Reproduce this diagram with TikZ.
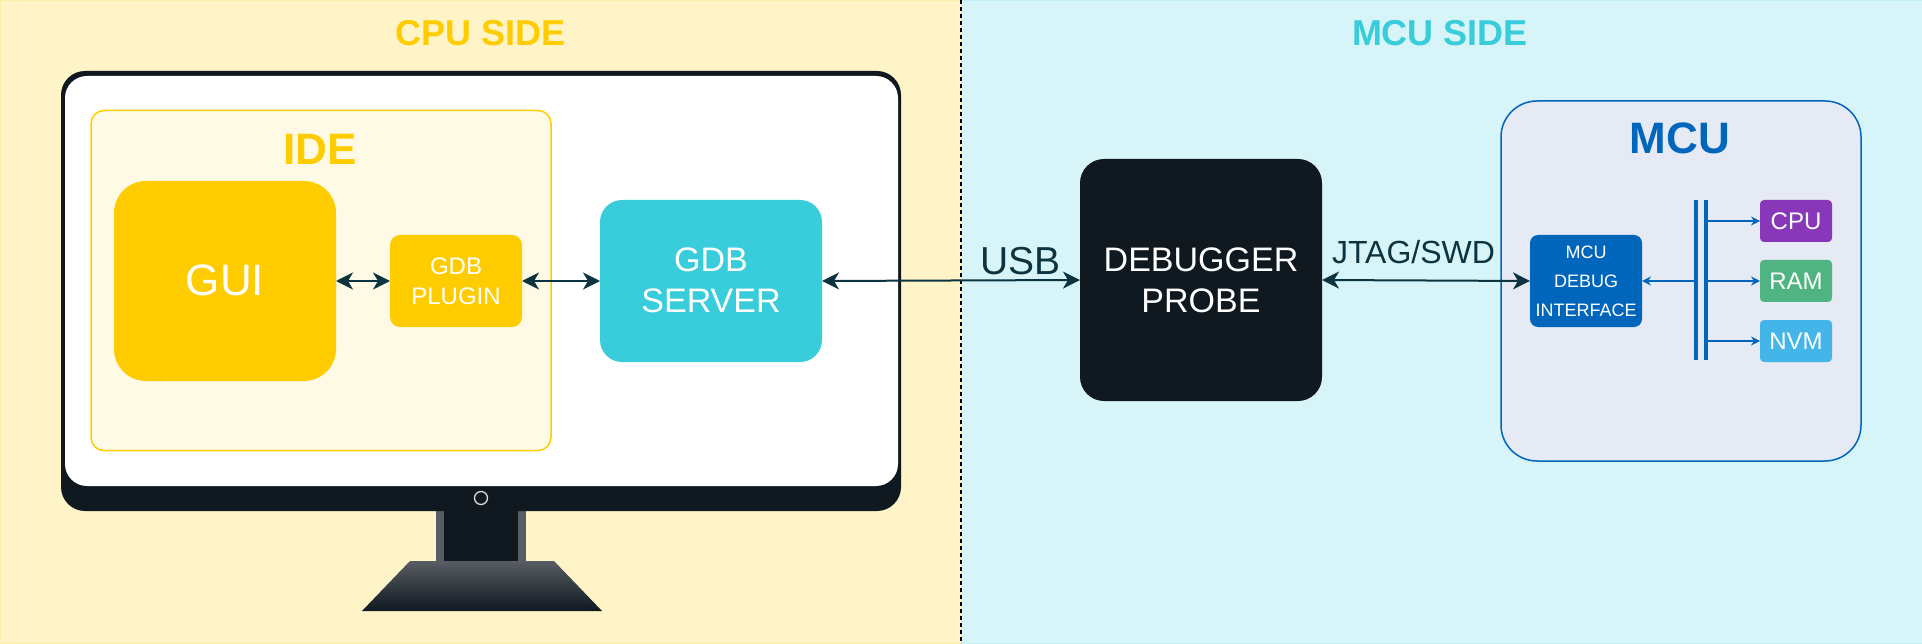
\documentclass[tikz,border=0pt]{standalone}
\usepackage{fontspec}
\setmainfont{Liberation Sans}
\usetikzlibrary{positioning, arrows.meta}
\definecolor{gold}{HTML}{FFCC00}
\definecolor{teal2}{HTML}{39CCDB}
\definecolor{ink}{HTML}{101820}
\definecolor{wire}{HTML}{0B3440}
\definecolor{mcublue}{HTML}{0066BB}
\definecolor{mcufill}{HTML}{E6EAF5}
\definecolor{cpufill}{HTML}{8737B7}
\definecolor{ramfill}{HTML}{50B382}
\definecolor{nvmfill}{HTML}{44B5E8}
\tikzset{
box/.style={rectangle, inner sep=0pt, outer sep=0pt, align=center, text=white}, % every block of the picture
panel/.style={box, minimum width=961pt, minimum height=643pt},
side/.style={font=\fontsize{36}{40}\selectfont\bfseries},
head/.style={font=\fontsize{44}{48}\selectfont\bfseries},
big/.style={font=\fontsize{34}{41}\selectfont},
tiny/.style={box, rounded corners=4pt, minimum width=72pt, minimum height=42pt, font=\fontsize{24}{28}\selectfont},
link/.style={<->, >={Stealth[length=17pt, width=17pt, inset=5pt]}, draw=wire, line width=2pt}, % thick arrows between blocks
buslink/.style={->, >={Stealth[length=9pt, width=9pt, inset=3pt]}, draw=mcublue, line width=2pt},
bar/.style={box, fill=mcublue, minimum width=4pt, minimum height=160pt},
}

\begin{document}
\begin{tikzpicture}[x=1pt, y=-1pt]
    \useasboundingbox (0,0) rectangle (1922,644);

    \node[panel, fill=gold!22, draw=gold!35] (cpuside) at (480.5,322) {};
    \node[panel, fill=teal2!20, draw=teal2!30] (mcuside) at (1441.5,322) {};
    \coordinate (top) at (961,0);
    \coordinate (bottom) at (961,644);
    \draw[dashed, line width=1.5pt, dash pattern=on 4pt off 3pt] (top) -- (bottom);

    \node[side, text=gold] (cputitle) at (480.5,33) {CPU SIDE};
    \node[side, text=teal2] (mcutitle) at (1440,33) {MCU SIDE};

    % monitor
    \fill[ink!70!white] (436,505) rectangle (526,565);
    \fill[ink] (444,505) rectangle (518,565);
    \shade[top color=ink!70!white, bottom color=ink] (410,561) -- (554,561) -- (602,611) -- (362,611) -- cycle;
    \node[box, fill=ink, rounded corners=24pt, minimum width=840pt, minimum height=440pt] (frame) at (481,291) {};
    \node[box, fill=white, rounded corners=22pt, minimum width=833pt, minimum height=410pt] (screen) at (481.5,281) {};
    \node[circle, draw=white!85!black, line width=1.3pt, minimum size=13pt, inner sep=0pt] (led) at (481,498) {};

    % blocks on the computer
    \node[box, fill=gold!10, draw=gold, line width=1.5pt, rounded corners=13pt, minimum width=460pt, minimum height=340pt] (ide) at (321,280.5) {};
    \node[head, text=gold] (idetitle) at (320,149) {IDE};
    \node[box, fill=gold, rounded corners=32pt, minimum width=222pt, minimum height=200pt, font=\fontsize{44}{48}\selectfont] (gui) at (225,281) {\raisebox{2pt}{GUI}};
    \node[box, fill=gold, rounded corners=10pt, minimum width=132pt, minimum height=92pt, right=54pt of gui, font=\fontsize{24}{30}\selectfont] (plugin) {GDB\\PLUGIN};
    \node[box, big, fill=teal2, rounded corners=22pt, minimum width=222pt, minimum height=162pt, right=78pt of plugin] (server) {\raisebox{1.5pt}{GDB}\\\raisebox{1.5pt}{SERVER}};

    % blocks on the target
    \node[box, big, fill=ink, rounded corners=24pt, minimum width=242pt, minimum height=242pt, right=258pt of server, yshift=1pt] (probe) {DEBUGGER\\PROBE};
    \node[box, fill=mcufill, draw=mcublue, line width=1.5pt, rounded corners=36pt, minimum width=360pt, minimum height=360pt] (mcu) at (1681,281) {};
    \node[head, text=mcublue] (mcutext) at (1680,138.5) {MCU};
    \node[box, fill=mcublue, rounded corners=8pt, minimum width=112pt, minimum height=92pt, right=208pt of probe, yshift=-1pt, font=\fontsize{18}{29}\selectfont] (debug) {MCU\\DEBUG\\INTERFACE};
    \node[bar, right=52pt of debug, yshift=1pt] (busa) {};
    \node[bar, right=6pt of busa] (busb) {};
    \node[tiny, fill=ramfill, right=52pt of busb, yshift=-1pt] (ram) {RAM};
    \node[tiny, fill=cpufill, above=18pt of ram] (cpu) {CPU};
    \node[tiny, fill=nvmfill, below=18pt of ram] (nvm) {NVM};

    \draw[link] (gui.east) -- (plugin.west);
    \draw[link] (plugin.east) -- (server.west);
    \draw[link] (server.east) -- node[pos=.77, above=1.5pt, text=wire, font=\fontsize{39}{42}\selectfont] (usb) {USB} (probe.west);
    \draw[link] (probe.east) -- node[pos=.44, above=12pt, text=wire, font=\fontsize{32}{34}\selectfont] (jtag) {JTAG/SWD} (debug.west);
    \draw[buslink] (busa.west |- debug.east) -- (debug.east);
    \draw[buslink] (busb.east |- cpu.west) -- (cpu.west);
    \draw[buslink] (busb.east |- ram.west) -- (ram.west);
    \draw[buslink] (busb.east |- nvm.west) -- (nvm.west);
\end{tikzpicture}
\end{document}
